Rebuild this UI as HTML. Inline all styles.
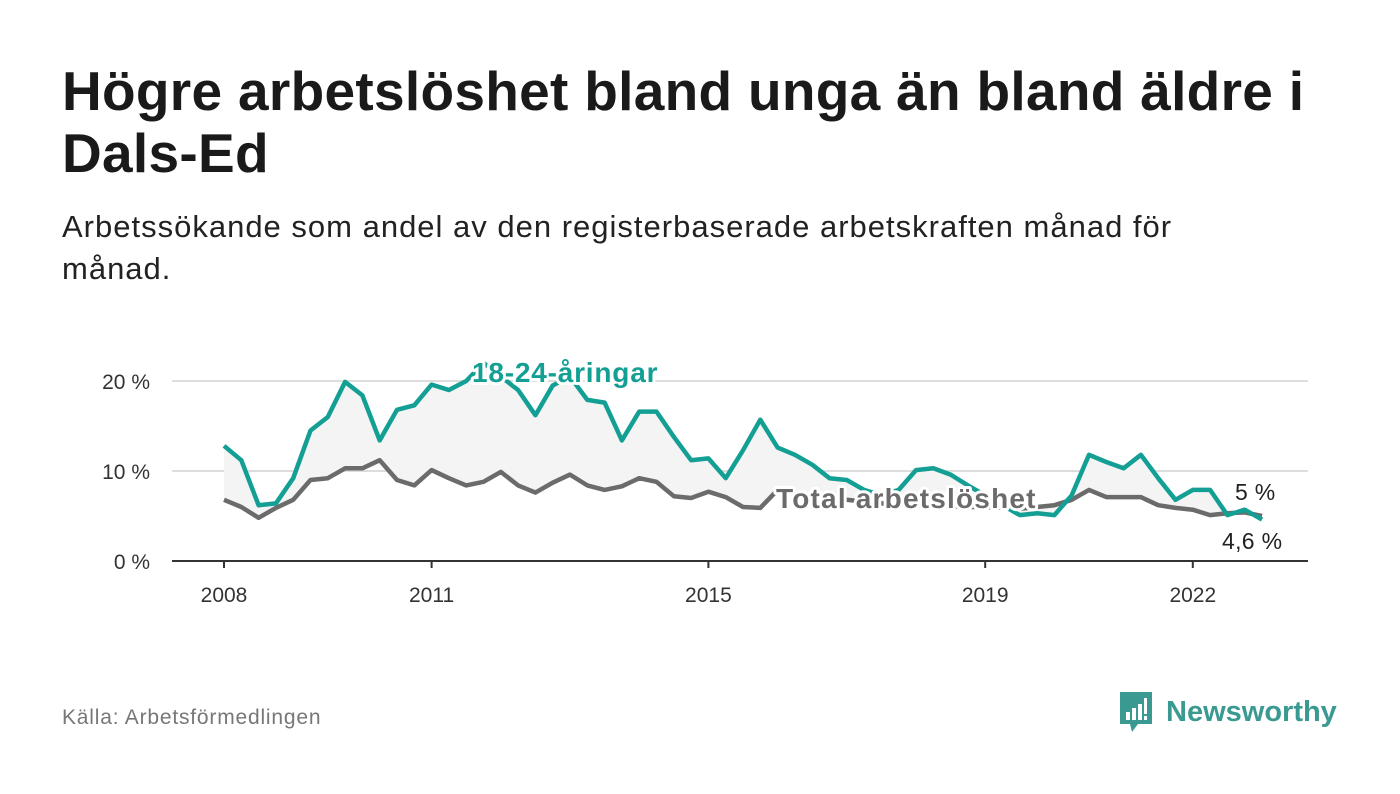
<!DOCTYPE html>
<html><head><meta charset="utf-8"><style>
html,body{margin:0;padding:0;background:#fff;width:1400px;height:794px;overflow:hidden}
body{font-family:"Liberation Sans","DejaVu Sans",sans-serif;color:#111}
h1{position:absolute;left:62px;top:60px;margin:0;font-size:55px;line-height:62px;font-weight:bold;width:1290px;color:#1a1a1a;letter-spacing:0.3px}
.sub{position:absolute;left:62px;top:206px;font-size:31px;line-height:42px;width:1170px;color:#222;letter-spacing:1px}
.src{position:absolute;left:62px;top:706px;font-size:21px;color:#777;letter-spacing:0.8px}
.logo{position:absolute;left:1118px;top:690px;display:flex;align-items:center}
.logo span{font-size:29px;font-weight:bold;color:#3a9a92;margin-left:12px}
svg text{font-family:"Liberation Sans","DejaVu Sans",sans-serif}
</style></head><body>
<h1>Högre arbetslöshet bland unga än bland äldre i Dals-Ed</h1>
<div class="sub">Arbetssökande som andel av den registerbaserade arbetskraften månad för månad.</div>
<svg id="chart" width="1400" height="794" style="position:absolute;left:0;top:0"></svg>
<div class="src">Källa: Arbetsförmedlingen</div>
<div class="logo">
<svg width="36" height="44" viewBox="0 0 36 44"><path d="M2 2h32v32H20l-6 8-2-8H2z" fill="#3a9a92"/><rect x="8" y="22" width="4" height="8" fill="#fff"/><rect x="14" y="18" width="4" height="12" fill="#fff"/><rect x="20" y="14" width="4" height="16" fill="#fff"/><rect x="26" y="8" width="3" height="16" fill="#fff"/><rect x="26" y="26" width="3" height="4" fill="#fff"/></svg>
<span>Newsworthy</span></div>
<script>
const years=[2008,2011,2015,2019,2022];
const yTicks=[0,10,20];
const youth=[12.8,11.2,6.2,6.4,9.2,14.5,16,19.9,18.4,13.4,16.8,17.3,19.6,19,20,22,20.5,19,16.2,19.5,20.5,17.9,17.6,13.4,16.6,16.6,13.8,11.2,11.4,9.2,12.3,15.7,12.6,11.8,10.7,9.2,9,7.9,7.3,7.9,10.1,10.3,9.6,8.4,7.3,6.2,5.1,5.3,5.1,7.3,11.8,11,10.3,11.8,9.2,6.8,7.9,7.9,5.1,5.7,4.6];
const total=[6.8,6.0,4.8,5.9,6.8,9,9.2,10.3,10.3,11.2,9,8.4,10.1,9.2,8.4,8.8,9.9,8.4,7.6,8.7,9.6,8.4,7.9,8.3,9.2,8.8,7.2,7.0,7.7,7.1,6.0,5.9,7.9,7.5,7.3,7,6.8,6.6,6.4,6.3,6.2,6.2,6.1,6.0,6.0,5.9,5.8,6.0,6.2,6.8,7.9,7.1,7.1,7.1,6.2,5.9,5.7,5.1,5.3,5.4,5.0];
const NS="http://www.w3.org/2000/svg";
const svg=document.getElementById('chart');
const X=t=>224+(t-2008)*69.2;
const Y=v=>561-v*9;
const tAt=i=>2008+i*0.25;
function mk(tag,attrs){const e=document.createElementNS(NS,tag);for(const k in attrs)e.setAttribute(k,attrs[k]);svg.appendChild(e);return e;}
yTicks.forEach(v=>{
  if(v>0){const g=mk('line',{x1:172,x2:1308,y1:Y(v),y2:Y(v),stroke:'#ddd','stroke-width':2});
  
  }
  const t=mk('text',{x:150,y:Y(v)+8,'text-anchor':'end','font-size':21,fill:'#333'});t.textContent=v+' %';
  
  
});
let d='';youth.forEach((v,i)=>{d+=(i?'L':'M')+X(tAt(i))+','+Y(v);});
for(let i=total.length-1;i>=0;i--)d+='L'+X(tAt(i))+','+Y(total[i]);
const area=mk('path',{d:d+'Z',fill:'#f4f4f4'});


const ax=mk('line',{x1:172,x2:1308,y1:561,y2:561,stroke:'#333','stroke-width':2});


years.forEach(yr=>{
  const tk=mk('line',{x1:X(yr),x2:X(yr),y1:561,y2:568,stroke:'#333','stroke-width':2});
  
  
  const t=mk('text',{x:X(yr),y:602,'text-anchor':'middle','font-size':21,fill:'#333'});t.textContent=yr;
  
  
});
function line(arr,col,name){let p='';arr.forEach((v,i)=>{p+=(i?'L':'M')+X(tAt(i)).toFixed(1)+','+Y(v).toFixed(1);});
  const l=mk('path',{d:p,fill:'none',stroke:col,'stroke-width':4.5,'stroke-linejoin':'round'});
  
  }
line(total,'#6b6b6b','total-line');
line(youth,'#139f94','youth-line');
function lab(x,y,txt,col,bold,name,size,ls){const t=mk('text',{x:x,y:y,'font-size':size,'font-weight':bold?'bold':'normal',fill:col,stroke:'#fff','stroke-width':6,'paint-order':'stroke','stroke-linejoin':'round','letter-spacing':ls});t.textContent=txt;
  
  }
lab(472,382,'18-24-åringar','#139f94',true,'youth-series-label',28,0.8);
lab(776,508,'Total arbetslöshet','#6b6b6b',true,'total-series-label',28,1.2);
lab(1235,500,'5 %','#222',false,'total-end-value',23,0.3);
lab(1222,549,'4,6 %','#222',false,'youth-end-value',23,0.3);
</script>
</body></html>
